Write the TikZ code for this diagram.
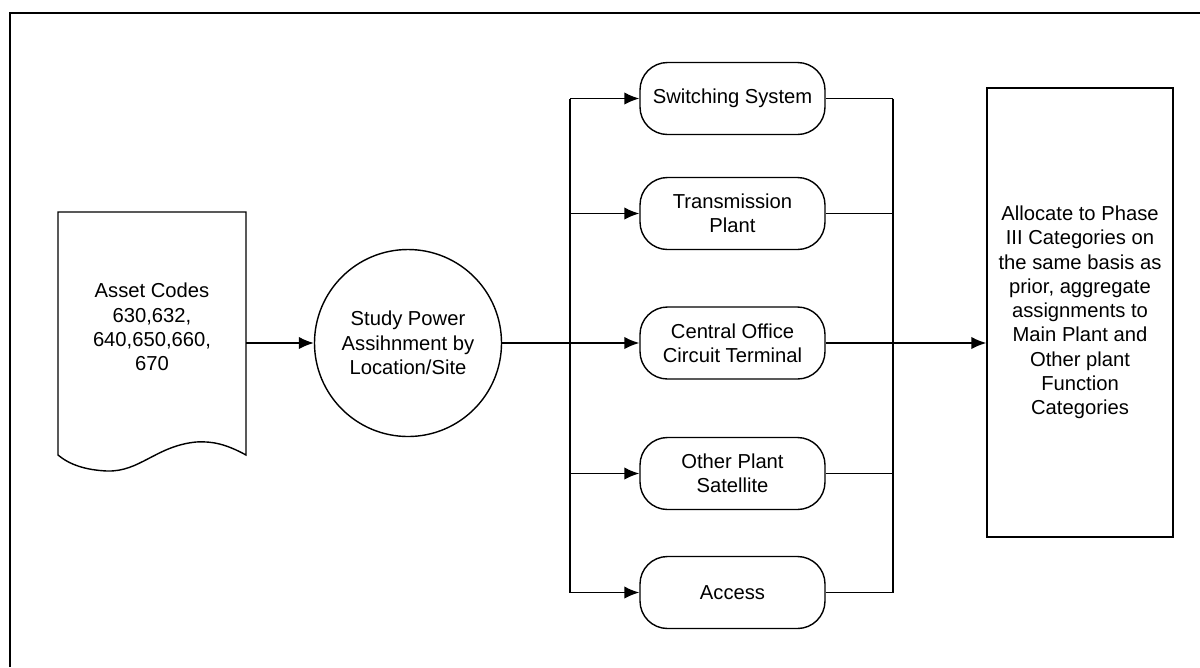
\documentclass[tikz,border=0pt]{standalone}
\usepackage{fontspec}
\setmainfont{Liberation Sans}
\usepackage{tikz}
\usetikzlibrary{arrows.meta}

\begin{document}
\begin{tikzpicture}[x=0.2cm,y=0.2cm]
\tikzstyle{every node}+=[inner sep=0pt, align=center, font=\fontsize{11.5}{13.8}\selectfont]
\tikzstyle{wire}=[line width=0.8pt]
\tikzstyle{flow}=[wire, -{Latex[length=8.5pt,width=7pt]}]
\tikzstyle{cat}=[draw, wire, rounded corners=0.55cm, minimum width=3.7cm, minimum height=1.44cm]
\useasboundingbox (0,0) rectangle (120,-66.7);
\draw [line width=1.6pt] (1,-66.7) -- (1,-1.3) -- (120,-1.3);
\draw [wire] (5.8,-21.2) -- (24.6,-21.2) -- (24.6,-45.5) .. controls (22.6,-44.4) and (21.2,-44.1) .. (19.6,-44.2) .. controls (15.6,-44.6) and (14,-47.2) .. (10.7,-47.1) .. controls (8.6,-47) and (7,-46.5) .. (5.8,-45.5) -- cycle;
\node (codes) at (15.2,-32.7) {Asset Codes\\630,632,\\640,650,660,\\670};
\coordinate (codesout) at (24.6,-34.3);
\node [draw, wire, circle, minimum size=3.74cm] (study) at (40.8,-34.3) {Study Power\\Assihnment by\\Location/Site};
\node [cat] (switch) at (73.25,-9.85) {Switching System};
\node [cat] (trans) at (73.25,-21.35) {Transmission\\Plant};
\node [cat] (central) at (73.25,-34.3) {Central Office\\Circuit Terminal};
\node [cat] (other) at (73.25,-47.35) {Other Plant\\Satellite};
\node [cat] (access) at (73.25,-59.25) {Access};
\node [draw, wire, minimum width=3.72cm, minimum height=8.98cm] (alloc) at (108,-31.25) {Allocate to Phase\\III Categories on\\the same basis as\\prior, aggregate\\assignments to\\Main Plant and\\Other plant\\Function\\Categories};
\coordinate (busL) at (57,-34.3);
\coordinate (busR) at (89.3,-34.3);
\draw [flow] (codesout) -- (study);
\draw [wire] (study) -- (busL);
\draw [wire] (busL |- switch) -- (busL |- access);
\draw [wire] (busR |- switch) -- (busR |- access);
\foreach \n in {switch,trans,central,other,access}
{
\draw [flow] (busL |- \n) -- (\n);
\draw [wire] (\n) -- (busR |- \n);
}
\draw [flow] (busR) -- (busR -| alloc.west);
\end{tikzpicture}
\end{document}
